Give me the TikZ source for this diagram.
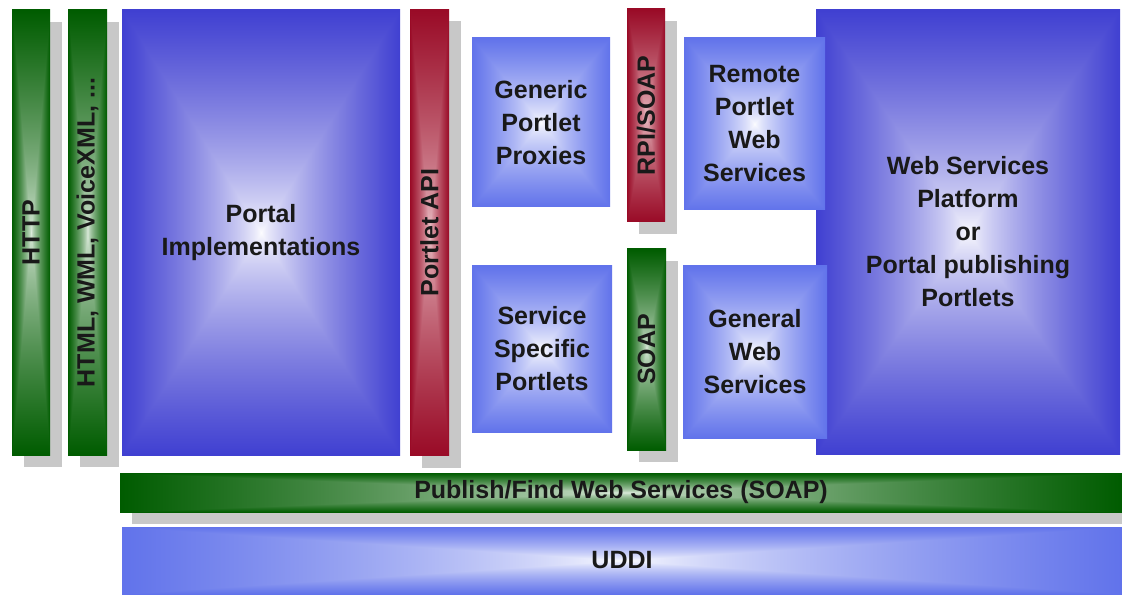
\documentclass[tikz,border=0pt]{standalone}
\usepackage{fontspec}
\setmainfont{Liberation Sans}
\usetikzlibrary{shadows}

\definecolor{shadowgray}{RGB}{200,200,200}
\definecolor{ink}{RGB}{25,25,25}

% pillow shading: name, edge r g b, centre r g b
\newcommand{\pillow}[7]{%
    \pgfdeclarefunctionalshading{#1}{\pgfpoint{0bp}{0bp}}{\pgfpoint{100bp}{100bp}}{}{
        50 sub abs 25 div exch 50 sub abs 25 div
        2 copy sub abs 3 1 roll add add 2 div
        dup 1 sub abs neg 1 add add 2 div 0.7 exp
        dup #2 #5 sub mul #5 add exch
        dup #3 #6 sub mul #6 add exch
        #4 #7 sub mul #7 add}}
\pillow{pillowdeep}{0.25}{0.25}{0.82}{1}{1}{1}
\pillow{pillowlight}{0.38}{0.45}{0.92}{1}{1}{1}
\pillow{pillowgreen}{0.0}{0.36}{0.0}{0.88}{0.93}{0.88}
\pillow{pillowred}{0.60}{0.04}{0.15}{0.93}{0.78}{0.80}

\begin{document}
\begin{tikzpicture}
                        \tikzstyle{box}=[shade, inner sep=0pt, align=center, text=ink,
                            font=\fontsize{12.5}{16.5}\selectfont\bfseries]
                        \tikzstyle{bar}=[box, drop shadow={shadow xshift=6pt, shadow yshift=-6pt,
                            fill=shadowgray, opacity=1}]
                        \useasboundingbox (0,0) rectangle (561pt,297pt);
                        % left column
                        \node[bar, shading=pillowgreen, minimum width=19pt, minimum height=222.5pt]
                            (http) at (15.5pt,180.75pt) {\rotatebox{90}{HTTP}};
                        \node[bar, shading=pillowgreen, minimum width=19.5pt, minimum height=222.5pt]
                            (markup) at (43.75pt,180.75pt) {\rotatebox{90}{HTML, WML, VoiceXML, ...}};
                        \node[box, shading=pillowdeep, minimum width=139pt, minimum height=222.5pt]
                            (portal) at (130.5pt,180.75pt) {Portal\\Implementations};
                        \node[bar, shading=pillowred, minimum width=19.5pt, minimum height=223pt]
                            (papi) at (214.75pt,180.75pt) {\rotatebox{90}{Portlet API}};
                        % middle
                        \node[box, shading=pillowlight, minimum width=69pt, minimum height=84.5pt]
                            (proxies) at (270.5pt,235.75pt) {Generic\\Portlet\\Proxies};
                        \node[bar, shading=pillowred, minimum width=19pt, minimum height=106.5pt]
                            (rpi) at (323pt,239.25pt) {\rotatebox{90}{RPI/SOAP}};
                        \node[box, shading=pillowlight, minimum width=70pt, minimum height=83pt]
                            (specific) at (271pt,122.5pt) {Service\\Specific\\Portlets};
                        \node[bar, shading=pillowgreen, minimum width=19.5pt, minimum height=100.5pt]
                            (soap) at (323.25pt,122.25pt) {\rotatebox{90}{SOAP}};
                        % right
                        \node[box, shading=pillowdeep, minimum width=152pt, minimum height=222pt]
                            (platform) at (484pt,181pt) {Web Services\\Platform\\or\\Portal publishing\\Portlets};
                        \node[box, shading=pillowlight, minimum width=70.5pt, minimum height=86pt]
                            (remote) at (377.25pt,235pt) {Remote\\Portlet\\Web\\Services};
                        \node[box, shading=pillowlight, minimum width=72pt, minimum height=86pt]
                            (general) at (377.5pt,121pt) {General\\Web\\Services};
                        % bottom
                        \node[bar, shading=pillowgreen, minimum width=501pt, minimum height=19.5pt]
                            (publish) at (310.5pt,50.75pt) {Publish/Find Web Services (SOAP)};
                        \node[box, shading=pillowlight, minimum width=500pt, minimum height=33.5pt]
                            (uddi) at (311pt,16.75pt) {UDDI};
                    \end{tikzpicture}
\end{document}
